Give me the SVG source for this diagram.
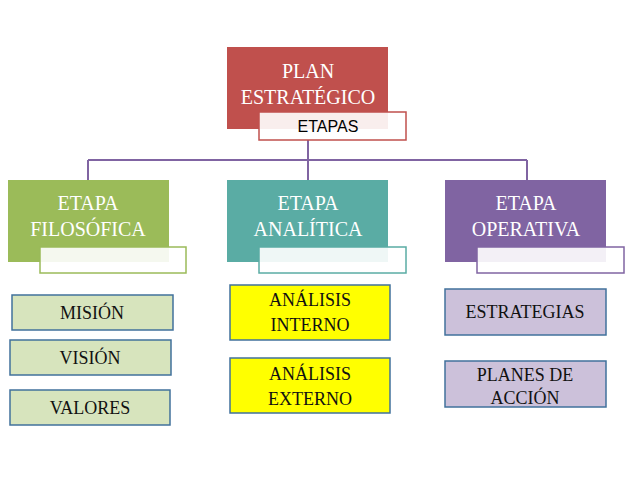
<svg xmlns="http://www.w3.org/2000/svg" width="638" height="479" viewBox="0 0 638 479">
<style>
.t{font-family:"Liberation Serif",serif;text-anchor:middle}
.w{fill:#fff;font-size:20px}
.k{fill:#111;font-size:18px}
.sub{fill:#fff;fill-opacity:0.9;stroke-width:1.5}
.b{stroke:#41719c;stroke-width:1.5}
</style>
<rect width="638" height="479" fill="#fff"/>
<g id="connectors" fill="none" stroke="#8064a2" stroke-width="2">
<path d="M308 140V160M88 160H527M88 160V180M308 160V180M527 160V180"/>
</g>
<g id="plan">
<rect x="227" y="47" width="161" height="82" fill="#c0504d"/>
<text class="t w" x="308" y="78">PLAN</text>
<text class="t w" x="308" y="104">ESTRATÉGICO</text>
<rect x="259" y="112" width="147" height="28" class="sub" stroke="#c0504d"/>
<text x="328" y="132" font-family="'Liberation Sans',sans-serif" font-size="16" text-anchor="middle" fill="#000">ETAPAS</text>
</g>
<g id="filosofica">
<rect x="8" y="180" width="161" height="82" fill="#9bbb59"/>
<text class="t w" x="88" y="210">ETAPA</text>
<text class="t w" x="88" y="236">FILOSÓFICA</text>
<rect x="40" y="247" width="146" height="26" class="sub" stroke="#9bbb59"/>
</g>
<g id="analitica">
<rect x="227" y="180" width="161" height="82" fill="#4bacc6" style="fill:#5aaca4"/>
<text class="t w" x="308" y="210">ETAPA</text>
<text class="t w" x="308" y="236">ANALÍTICA</text>
<rect x="259" y="247" width="147" height="26" class="sub" stroke="#5aaca4"/>
</g>
<g id="operativa">
<rect x="445" y="180" width="161" height="82" fill="#8064a2"/>
<text class="t w" x="526" y="210">ETAPA</text>
<text class="t w" x="526" y="236">OPERATIVA</text>
<rect x="477" y="247" width="147" height="26" class="sub" stroke="#8064a2"/>
</g>
<g id="mision"><rect x="12" y="295" width="161" height="35" fill="#d7e4bd" class="b"/><text class="t k" x="92" y="319">MISIÓN</text></g>
<g id="vision"><rect x="10" y="340" width="161" height="35" fill="#d7e4bd" class="b"/><text class="t k" x="90" y="364">VISIÓN</text></g>
<g id="valores"><rect x="10" y="390" width="160" height="35" fill="#d7e4bd" class="b"/><text class="t k" x="90" y="414">VALORES</text></g>
<g id="interno"><rect x="230" y="285" width="160" height="55" fill="#ffff00" class="b"/><text class="t k" x="310" y="306">ANÁLISIS</text><text class="t k" x="310" y="331">INTERNO</text></g>
<g id="externo"><rect x="230" y="358" width="160" height="55" fill="#ffff00" class="b"/><text class="t k" x="310" y="380">ANÁLISIS</text><text class="t k" x="310" y="405">EXTERNO</text></g>
<g id="estrategias"><rect x="445" y="289" width="161" height="46" fill="#ccc1da" class="b"/><text class="t k" x="525" y="318">ESTRATEGIAS</text></g>
<g id="planes"><rect x="445" y="361" width="161" height="46" fill="#ccc1da" class="b"/><text class="t k" x="525" y="381">PLANES DE</text><text class="t k" x="525" y="404">ACCIÓN</text></g>
</svg>
